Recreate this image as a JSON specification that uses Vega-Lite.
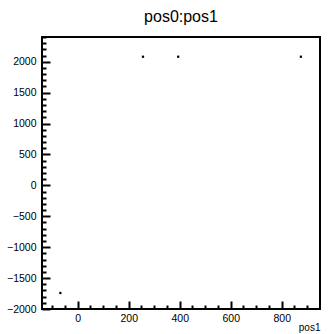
{
  "$schema": "https://vega.github.io/schema/vega-lite/v6.json",
  "width": 278,
  "height": 272,
  "autosize": {"type": "none"},
  "padding": {"left": 42, "top": 37, "right": 13, "bottom": 25},
  "background": "white",
  "title": {"text": "pos0:pos1", "font": "Liberation Sans", "fontSize": 16, "fontWeight": "normal", "color": "#000", "anchor": "middle", "frame": "group", "offset": 11},
  "config": {
    "view": {"stroke": "#000", "strokeWidth": 2},
    "axis": {"grid": false, "domain": false, "labelFont": "Liberation Sans", "labelFontSize": 10.5, "labelColor": "#000", "tickColor": "#000", "titleFont": "Liberation Sans", "titleFontSize": 10, "titleFontWeight": "normal", "titleColor": "#000"}
  },
  "data": {"values": [
    {"pos1": 256, "pos0": 2081},
    {"pos1": 394, "pos0": 2081},
    {"pos1": 875, "pos0": 2081},
    {"pos1": -68, "pos0": -1741}
  ]},
  "layer": [
    {
      "mark": {"type": "square", "size": 5, "color": "#000", "opacity": 1},
      "encoding": {
        "x": {"field": "pos1", "type": "quantitative", "scale": {"domain": [-140, 950], "nice": false, "zero": false},
          "axis": {"orient": "bottom", "offset": -8, "values": [0, 200, 400, 600, 800], "format": "d", "tickSize": 8, "tickWidth": 2, "labelPadding": 4, "title": "pos1", "titleX": 278, "titleY": 29, "titleAlign": "right", "titleBaseline": "alphabetic", "titleAnchor": "end"}},
        "y": {"field": "pos0", "type": "quantitative", "scale": {"domain": [-2000, 2400], "nice": false, "zero": false},
          "axis": {"orient": "left", "offset": -8, "values": [-2000, -1500, -1000, -500, 0, 500, 1000, 1500, 2000], "format": "d", "tickSize": 8, "tickWidth": 2, "labelPadding": 6, "title": null}}
      }
    },
    {
      "mark": {"type": "square", "size": 5, "opacity": 0},
      "encoding": {
        "x": {"field": "pos1", "type": "quantitative",
          "axis": {"orient": "bottom", "offset": -4, "values": [-100, -50, 50, 100, 150, 250, 300, 350, 450, 500, 550, 650, 700, 750, 850, 900], "tickSize": 4, "tickWidth": 2, "labels": false, "title": null}},
        "y": {"field": "pos0", "type": "quantitative",
          "axis": {"orient": "left", "offset": -4, "values": [-1900, -1800, -1700, -1600, -1400, -1300, -1200, -1100, -900, -800, -700, -600, -400, -300, -200, -100, 100, 200, 300, 400, 600, 700, 800, 900, 1100, 1200, 1300, 1400, 1600, 1700, 1800, 1900, 2100, 2200, 2300, 2400], "tickSize": 4, "tickWidth": 2, "labels": false, "title": null}}
      }
    }
  ],
  "resolve": {"axis": {"x": "independent", "y": "independent"}}
}
